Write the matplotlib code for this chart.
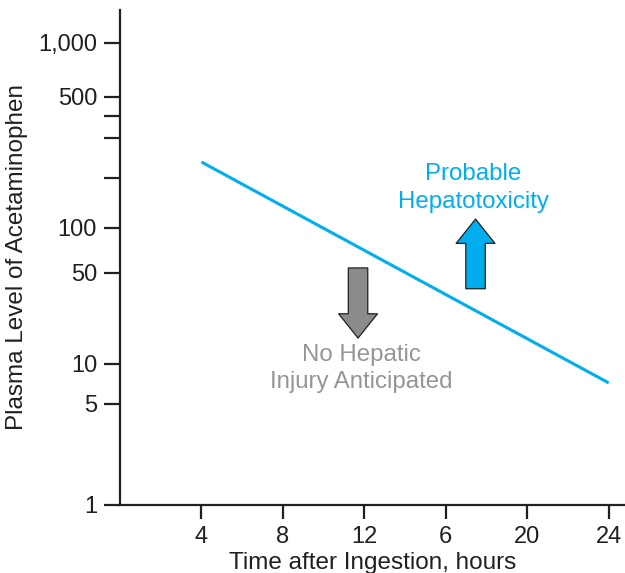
import numpy as np
from matplotlib import pyplot as plt
from matplotlib.patches import FancyArrowPatch

plt.rcParams['font.family'] = ['Liberation Sans', 'DejaVu Sans']

# data
line_hours = [4, 24]
line_levels = [235, 7.2]

x_ticks = [4, 8, 12, 16, 20, 24]
x_tick_labels = ['4', '8', '12', '6', '20', '24']

y_ticks = [1, 5, 10, 50, 100, 200, 300, 400, 500, 1000]
y_tick_labels = ['1', '5', '10', '50', '100', '', '', '', '500', '1,000']

# arrows: (hour, tail level, tip level)
safe_arrow = (11.69, 54, 15.8)
toxic_arrow = (17.46, 37.8, 113)

safe_text = (11.85, 9.2, 'No Hepatic\nInjury Anticipated')
toxic_text = (17.35, 174, 'Probable\nHepatotoxicity')

blue = '#00aeef'
grey_text = '#939598'
grey_fill = '#8a8b8d'
ink = '#231f20'

# the printed axis is hand drawn with uneven decades -> piecewise log scale
knots_log = [-3, 0, np.log10(5), 1, np.log10(50), 2, np.log10(200),
             np.log10(300), np.log10(400), np.log10(500), 3, 4]
knots_px = [-423, 0, 101, 141, 232, 277, 327, 367, 389, 408, 462, 641]


def forward(v):
    lv = np.log10(np.clip(v, 1e-3, None))
    return np.interp(lv, knots_log, knots_px)


def inverse(p):
    return 10 ** np.interp(p, knots_px, knots_log)


fig = plt.figure(figsize=(6.25, 5.73), dpi=100)
ax = fig.add_axes([0.192, 0.1187, 0.808, 0.864])
ax.set_yscale('function', functions=(forward, inverse))

ax.plot(line_hours, line_levels, color=blue, lw=2.2, solid_capstyle='butt')

for (xh, y0, y1), fc in [(safe_arrow, grey_fill), (toxic_arrow, blue)]:
    arr = FancyArrowPatch((xh, y0), (xh, y1),
                          arrowstyle='simple,head_width=28,head_length=17.5,tail_width=14',
                          mutation_scale=1, shrinkA=0, shrinkB=0,
                          fc=fc, ec=ink, lw=0.9)
    ax.add_patch(arr)

ax.text(safe_text[0], safe_text[1], safe_text[2], color=grey_text, fontsize=17.3,
        ha='center', va='center', linespacing=1.3)
ax.text(toxic_text[0], toxic_text[1], toxic_text[2], color=blue, fontsize=17.3,
        ha='center', va='center', linespacing=1.3)

ax.set_xlim(0, 24.8)
ax.set_ylim(1, 1528)
ax.set_xticks(x_ticks)
ax.set_xticklabels(x_tick_labels)
ax.set_yticks(y_ticks)
ax.set_yticklabels(y_tick_labels)
ax.minorticks_off()

for side in ['top', 'right']:
    ax.spines[side].set_visible(False)
for side in ['left', 'bottom']:
    ax.spines[side].set_linewidth(1.6)
    ax.spines[side].set_color(ink)

ax.tick_params(axis='y', length=11.5, width=1.6, pad=5, labelsize=17, colors=ink)
ax.tick_params(axis='x', length=10, width=1.6, pad=5, labelsize=17, colors=ink)

ax.set_xlabel('Time after Ingestion, hours', fontsize=17.5, color=ink, labelpad=3)
ax.set_ylabel('Plasma Level of Acetaminophen', fontsize=17.5, color=ink, labelpad=7)

plt.savefig('out.png', dpi=100)
